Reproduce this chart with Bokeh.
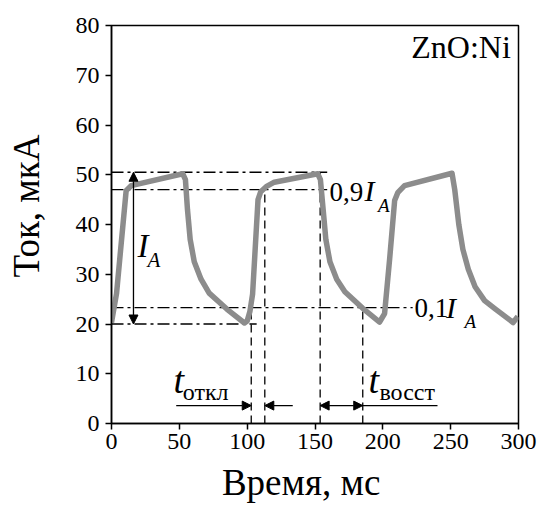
from bokeh.plotting import figure
from bokeh.models import Range1d, Arrow, NormalHead
from bokeh.core.properties import value
from bokeh.embed import file_html
from bokeh.resources import INLINE

# photo-current transient, ZnO:Ni
time_ms = [0, 3.7, 10.8, 14.5, 52.5, 54.5, 56, 58, 61, 66, 72, 85, 98,
           100, 102, 104, 108, 110, 114, 120, 152, 154, 156, 158, 161, 166, 172, 185, 197.6,
           201.3, 205, 208.7, 211, 216, 251, 253, 256, 259, 263, 268, 275, 283, 296, 299.5]
current_uA = [20.3, 26.1, 46.8, 47.8, 50.2, 49.0, 43.0, 37.0, 32.5, 29.0, 26.2, 23.0, 20.2,
              20.6, 22.5, 26.0, 45.0, 46.6, 47.6, 48.5, 50.2, 49.0, 43.0, 37.0, 32.5, 29.0, 26.5, 23.2, 20.4,
              22.1, 33.0, 44.8, 46.4, 47.8, 50.3, 47.0, 40.0, 35.0, 31.0, 27.5, 24.7, 23.0, 20.3, 21.5]

x_ticks = [0, 50, 100, 150, 200, 250, 300]
y_ticks = [0, 10, 20, 30, 40, 50, 60, 70, 80]

# reference levels (µA) and their right ends (ms)
level_vals = [50.5, 47.0, 23.3, 20.0]
level_ends = [159, 159, 222, 107]
# vertical markers (ms) and their tops (µA)
mark_t = [103, 113, 153.8, 185.2]
mark_top = [23.3, 47.0, 50.5, 23.3]

FONT = "Liberation Serif"
AXFONT = "serif"
NB = "\u00a0"

p = figure(width=542, height=506, output_backend="svg", toolbar_location=None,
           x_range=Range1d(0, 300), y_range=Range1d(0, 80),
           min_border_left=111, min_border_right=24, min_border_top=25, min_border_bottom=83)
p.background_fill_color = "white"
p.border_fill_color = "white"
p.outline_line_color = "black"
p.outline_line_width = 1.5
p.grid.visible = False

for ax in (p.xaxis[0], p.yaxis[0]):
    ax.axis_line_width = 1.5
    ax.major_tick_line_width = 1.5
    ax.minor_tick_line_width = 1.5
    ax.major_tick_out = 6
    ax.major_tick_in = 0
    ax.minor_tick_out = 3
    ax.minor_tick_in = 0
    ax.major_label_text_font = AXFONT
    ax.major_label_text_font_size = "24px"
    ax.major_label_text_color = "black"
    ax.axis_line_color = "black"
    ax.major_tick_line_color = "black"
    ax.minor_tick_line_color = "black"
    ax.axis_label_text_font = AXFONT
    ax.axis_label_text_font_style = "normal"
    ax.axis_label_text_color = "black"
    ax.axis_label_text_font_size = "37px"
p.xaxis.ticker = x_ticks
p.yaxis.ticker = y_ticks
p.xaxis[0].ticker.num_minor_ticks = 2
p.yaxis[0].ticker.num_minor_ticks = 2
p.xaxis.major_label_standoff = 4
p.yaxis.major_label_standoff = 6
p.xaxis.axis_label = "Время, мс" + NB * 3
p.yaxis.axis_label = NB * 4 + "Ток, мкА"
p.xaxis.axis_label_standoff = 10
p.yaxis.axis_label_standoff = 26

dd = "12 4 3 4"
for v, e in zip(level_vals, level_ends):
    p.line([0, e], [v, v], line_color="black", line_width=1.3, line_dash=dd)
for t, top in zip(mark_t, mark_top):
    p.line([t, t], [0, top], line_color="black", line_width=1.3, line_dash="8 5")

p.line(time_ms, current_uA, line_color="#8c8c8c", line_width=5.5, line_join="round")

def head():
    return NormalHead(size=9, fill_color="black", line_color="black")

arrow_y = 3.6
p.add_layout(Arrow(end=head(), x_start=47.7, y_start=arrow_y, x_end=mark_t[0], y_end=arrow_y,
                   line_width=1.3))
p.add_layout(Arrow(end=head(), x_start=133.6, y_start=arrow_y, x_end=mark_t[1], y_end=arrow_y,
                   line_width=1.3))
p.add_layout(Arrow(start=head(), end=head(), x_start=mark_t[2], y_start=arrow_y,
                   x_end=mark_t[3], y_end=arrow_y, line_width=1.3))
p.line([mark_t[3], 240.3], [arrow_y, arrow_y], line_color="black", line_width=1.3)
p.add_layout(Arrow(start=head(), end=head(), x_start=16.2, y_start=level_vals[0],
                   x_end=16.2, y_end=level_vals[3], line_width=1.3))

serif = value(FONT)
def txt(x, y, s, size, style="normal"):
    p.text(x=[x], y=[y], text=[s], text_font=serif, text_font_size=size,
           text_font_style=style, text_align="left", text_baseline="middle",
           text_color="black")

txt(221, 75.7, "ZnO:Ni", "32px")
# 0,9 I_A
txt(160.7, 46.6, "0,9", "27px")
txt(186.5, 46.8, "I", "30px", "italic")
txt(196.5, 43.8, "A", "19px", "italic")
# 0,1 I_A
txt(223.3, 23.2, "0,1", "27px")
txt(246.5, 23.3, "I", "30px", "italic")
txt(260.2, 20.5, "A", "19px", "italic")
# I_A
txt(19.2, 35.6, "I", "33px", "italic")
txt(26.5, 32.8, "A", "21px", "italic")
# t_откл, t_восст
txt(45.7, 8.8, "t", "38px", "italic")
txt(52.5, 6.25, "откл", "24px")
txt(189.4, 8.8, "t", "38px", "italic")
txt(197.5, 6.25, "восст", "24px")

open("out.html", "w").write(file_html(p, INLINE))
